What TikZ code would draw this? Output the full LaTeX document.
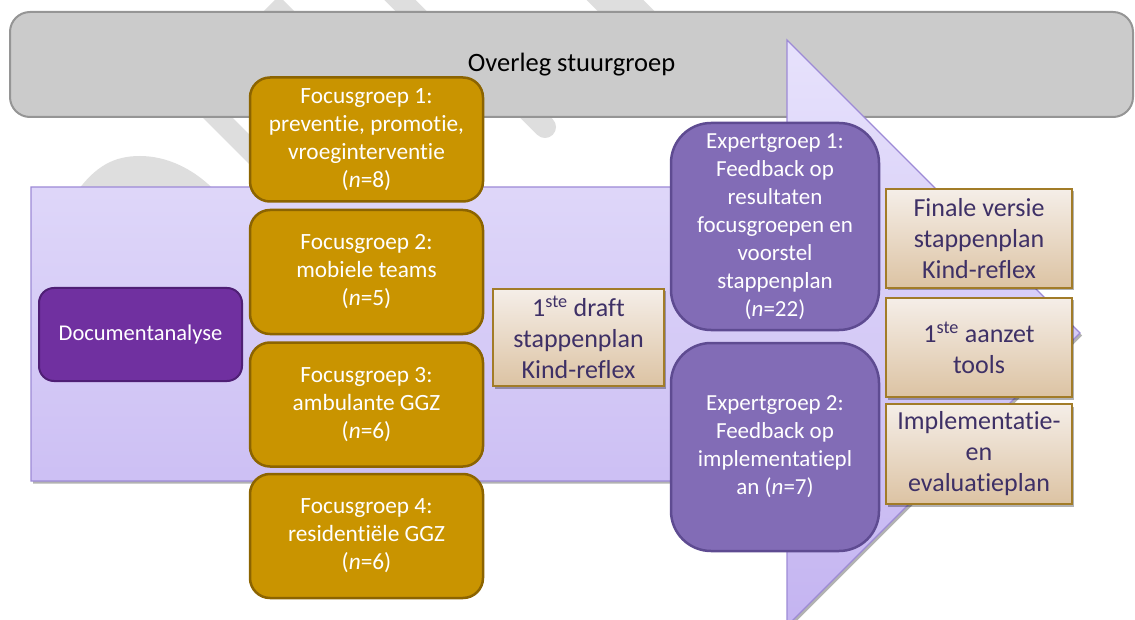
\documentclass[tikz,border=0pt]{standalone}
\usepackage{fontspec}
\setmainfont{Carlito}[Ligatures=NoCommon]
\usetikzlibrary{shadows}
\definecolor{wmgray}{HTML}{DEDEDE}
\definecolor{grayfill}{HTML}{CBCBCB}
\definecolor{grayline}{HTML}{959595}
\definecolor{goldfill}{HTML}{C99400}
\definecolor{goldline}{HTML}{8C6400}
\definecolor{dafill}{HTML}{7030A0}
\definecolor{daline}{HTML}{4F1F75}
\definecolor{expfill}{HTML}{826CB6}
\definecolor{expline}{HTML}{5E4B91}
\definecolor{arrtop}{HTML}{E7E2FC}
\definecolor{arrbot}{HTML}{C4B4F1}
\definecolor{arrline}{HTML}{9D8AD6}
\definecolor{beigetop}{HTML}{F5EEE8}
\definecolor{beigebot}{HTML}{DCC3A3}
\definecolor{beigeline}{HTML}{A27C28}
\definecolor{darktext}{HTML}{3E3066}
\begin{document}
\begin{tikzpicture}[x=1pt,y=-1pt,
  wm/.style={fill=wmgray},
  wmline/.style={draw=wmgray},
  softshadow/.style={drop shadow={shadow xshift=2pt,shadow yshift=-2.5pt,opacity=0.3,fill=black}},
  graybox/.style={draw=grayline,fill=grayfill,line width=2pt,rounded corners=20pt,
    font=\fontsize{26.5}{31}\selectfont,text=black,inner sep=0pt},
  focusbox/.style={draw=goldline,fill=goldfill,line width=2.5pt,rounded corners=20pt,
    minimum width=233pt,minimum height=124pt,align=center,text=white,inner sep=0pt,
    font=\fontsize{23.3}{28}\selectfont},
  dabox/.style={draw=daline,fill=dafill,line width=2pt,rounded corners=15pt,
    minimum width=203pt,minimum height=93pt,text=white,inner sep=0pt,
    font=\fontsize{22.5}{27}\selectfont},
  expbox/.style={draw=expline,fill=expfill,line width=2.5pt,rounded corners=40pt,
    minimum width=208pt,minimum height=207pt,align=center,text=white,inner sep=0pt,
    font=\fontsize{23}{28}\selectfont},
  beigebox/.style={draw=beigeline,line width=1.5pt,top color=beigetop,bottom color=beigebot,
    softshadow,align=center,text=darktext,inner sep=0pt,
    font=\fontsize{26}{31}\selectfont},
  arrowshape/.style={draw=arrline,line width=1.2pt,top color=arrtop,bottom color=arrbot,softshadow}
]
\useasboundingbox (0,0) rectangle (1135,620);

% watermark remnants
\fill[wm] (279,-4) -- (322,39) -- (236,39) -- cycle;
\draw[wmline,line width=22pt] (388,-12) -- (470,70);
\draw[wmline,line width=40pt] (590,-25) -- (690,75);
\draw[wmline,line width=21pt] (190,90) -- (290,190);
\draw[wmline,line width=22pt,line cap=round] (470,52) -- (545,127);
\fill[wm] (74,196) .. controls (95,165) and (115,156) .. (140,156)
  .. controls (166,156) and (195,168) .. (220,196) -- cycle;

% steering group bar
\node[graybox,minimum width=1123pt,minimum height=105pt] (stuur) at (571.5,64.5) {\raisebox{-2.5pt}{Overleg stuurgroep}};

% big arrow
\draw[arrowshape] (31,187) -- (787,187) -- (787,40) -- (1080,333) -- (787,626) -- (787,481) -- (31,481) -- cycle;
\coordinate (tip) at (1080,333);

% document analysis
\node[dabox] (doc) at (140.5,334.5) {Documentanalyse};

% focus groups
\node[focusbox] (fg1) at (366.5,139.5) {Focusgroep 1:\\preventie, promotie,\\vroeginterventie\\(\textit{n}=8)};
\node[focusbox] (fg2) at (366.5,272) {Focusgroep 2:\\mobiele teams\\(\textit{n}=5)};
\node[focusbox] (fg3) at (366.5,404.5) {Focusgroep 3:\\ambulante GGZ\\(\textit{n}=6)};
\node[focusbox] (fg4) at (366.5,536) {Focusgroep 4:\\residentiële GGZ\\(\textit{n}=6)};

% first draft
\node[beigebox,minimum width=171pt,minimum height=97pt] (draft) at (578.5,337.5)
  {1\textsuperscript{ste} draft\\stappenplan\\Kind-reflex};

% expert groups
\node[expbox] (exp1) at (775,226.5) {Expertgroep 1:\\Feedback op\\resultaten\\focusgroepen en\\voorstel\\stappenplan\\(\textit{n}=22)};
\node[expbox,minimum height=208pt] (exp2) at (775,447) {Expertgroep 2:\\Feedback op\\implementatiepl\\an (\textit{n}=7)};

% results
\node[beigebox,minimum width=186pt,minimum height=99pt] (res1) at (979,238.5) {Finale versie\\stappenplan\\Kind-reflex};
\node[beigebox,minimum width=186pt,minimum height=99pt] (res2) at (979,347.5) {1\textsuperscript{ste} aanzet\\tools};
\node[beigebox,minimum width=186pt,minimum height=100pt] (res3) at (979,454) {Implementatie-\\en\\evaluatieplan};
\end{tikzpicture}
\end{document}
